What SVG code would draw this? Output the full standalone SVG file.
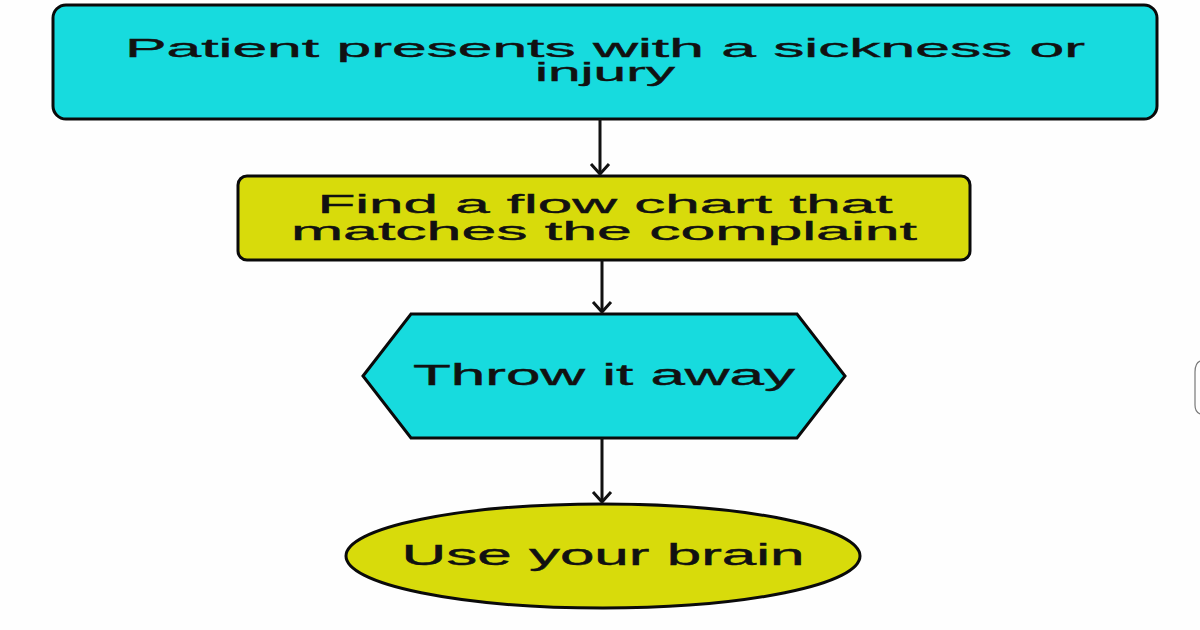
<svg xmlns="http://www.w3.org/2000/svg" width="1200" height="630" viewBox="0 0 1200 630">
<style>
.cyan{fill:#17dbde;stroke:#0a0a0a;stroke-width:3}
.yel{fill:#d8db0b;stroke:#0a0a0a;stroke-width:3}
.lbl{font-family:"Liberation Sans",Arial,sans-serif;font-size:29px;fill:#111;text-anchor:middle;stroke:#111;stroke-width:0.4}
.tight{font-size:26px}
.edge{stroke:#111;stroke-width:3;fill:none}
.head{fill:none;stroke:#111;stroke-width:3}
</style>
<rect width="1200" height="630" fill="#fefefe"/>
<g id="node-patient">
<rect class="cyan" x="53" y="5" width="1104" height="114" rx="13"/>
<text class="lbl tight" x="605" y="57" textLength="960" lengthAdjust="spacingAndGlyphs">Patient presents with a sickness or</text>
<text class="lbl tight" x="605" y="81" textLength="140" lengthAdjust="spacingAndGlyphs">injury</text>
</g>
<g id="node-find">
<rect class="yel" x="238" y="176" width="732" height="84" rx="9"/>
<text class="lbl tight" x="605" y="213" textLength="575" lengthAdjust="spacingAndGlyphs">Find a flow chart that</text>
<text class="lbl tight" x="604" y="240" textLength="626" lengthAdjust="spacingAndGlyphs">matches the complaint</text>
</g>
<g id="node-throw">
<polygon class="cyan" points="363,376 411,314 797,314 845,376 797,438 411,438"/>
<text class="lbl" x="604" y="385" textLength="382" lengthAdjust="spacingAndGlyphs">Throw it away</text>
</g>
<g id="node-brain">
<ellipse class="yel" cx="603" cy="556" rx="257" ry="52"/>
<text class="lbl" x="603" y="565" textLength="403" lengthAdjust="spacingAndGlyphs">Use your brain</text>
</g>
<g id="connectors">
<line class="edge" x1="600" y1="119" x2="600" y2="174"/>
<polyline class="head" points="591,164 600,174 609,164"/>
<line class="edge" x1="602" y1="260" x2="602" y2="312"/>
<polyline class="head" points="593,302 602,312 611,302"/>
<line class="edge" x1="602" y1="438" x2="602" y2="502"/>
<polyline class="head" points="593,492 602,502 611,492"/>
</g>
<path d="M1200,361 Q1195,363 1195,372 L1195,405 Q1195,412 1200,414" fill="none" stroke="#777" stroke-width="1.2"/>
</svg>
